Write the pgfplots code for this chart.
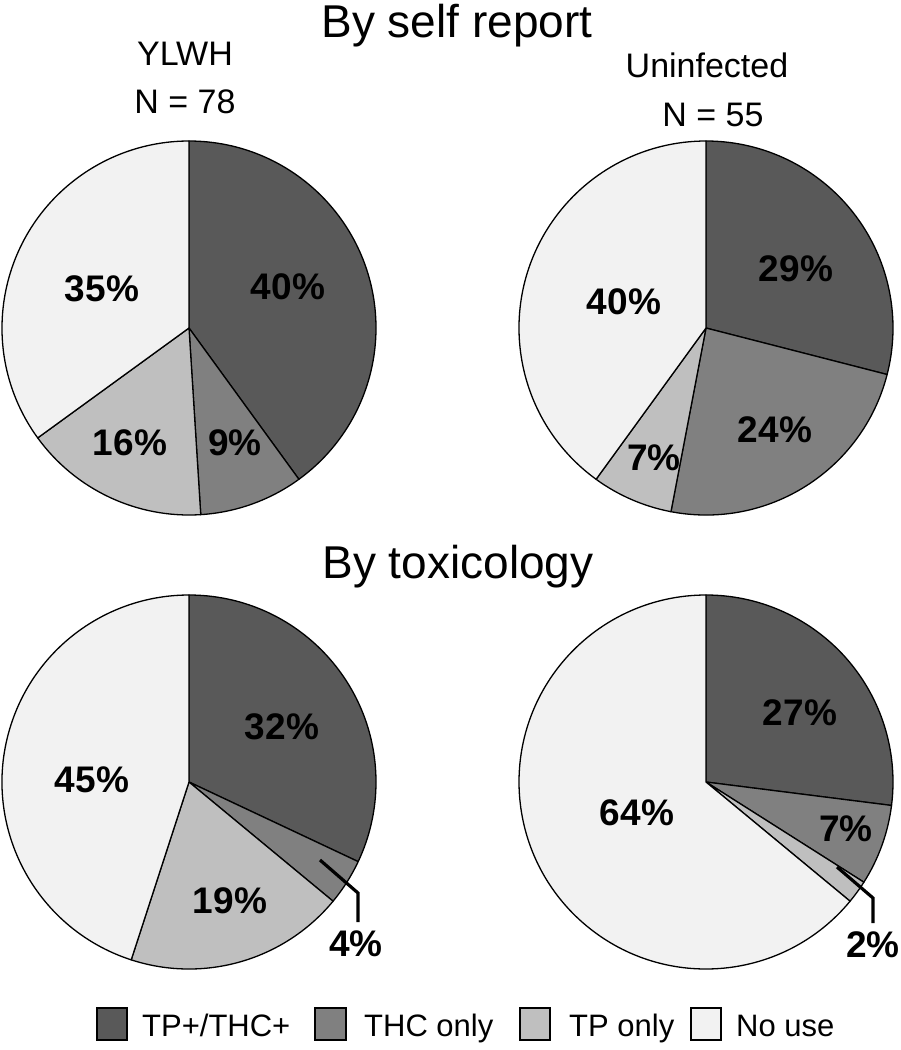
\documentclass[border=0pt]{standalone}
\usepackage{pgfplots}
\pgfplotsset{compat=1.18}
\usepackage{fontspec}
\setmainfont{Liberation Sans}

\definecolor{cBoth}{HTML}{595959}
\definecolor{cTHC}{HTML}{808080}
\definecolor{cTP}{HTML}{BFBFBF}
\definecolor{cNone}{HTML}{F2F2F2}

% one slice: centre x, centre y, cumulative start %, cumulative end %, colour
% 1 axis unit = 1pt, radius 187 units, clockwise from 12 o'clock
\newcommand\slice[5]{%
  \draw[black, line width=1.3pt, line join=round, fill=#5] (axis cs:#1,#2)
    -- ++({90-3.6*#3}:187pt)
    arc[start angle={90-3.6*#3}, end angle={90-3.6*#4}, radius=187pt] -- cycle;}
\newcommand\pct[3]{\node[font=\fontsize{37}{40}\selectfont\bfseries] at (axis cs:#1,#2) {#3\%};}

\begin{document}
\begin{tikzpicture}
\begin{axis}[
  scale only axis, width=901pt, height=1050pt,
  xmin=0, xmax=901, ymin=0, ymax=1050, y dir=reverse,
  hide axis, clip=false,
]
\coordinate (bl) at (axis cs:0,1050);
\coordinate (tr) at (axis cs:901,0);

% titles
\node[anchor=base, inner sep=0pt, font=\fontsize{46}{50}\selectfont] at (axis cs:457,37) {By self report};
\node[anchor=base, inner sep=0pt, font=\fontsize{46}{50}\selectfont] at (axis cs:458,578) {By toxicology};
\node[anchor=base, font=\fontsize{34}{38}\selectfont] at (axis cs:185,65) {YLWH};
\node[anchor=base, font=\fontsize{34}{38}\selectfont] at (axis cs:185,113) {N = 78};
\node[anchor=base, font=\fontsize{34}{38}\selectfont] at (axis cs:707,77) {Uninfected};
\node[anchor=base, font=\fontsize{34}{38}\selectfont] at (axis cs:713,126) {N = 55};

% self report, YLWH: 40, 9, 16, 35
\slice{189}{328}{0}{40}{cBoth}
\slice{189}{328}{40}{49}{cTHC}
\slice{189}{328}{49}{65}{cTP}
\slice{189}{328}{65}{100}{cNone}
\pct{288}{287}{40}
\pct{235}{443}{9}
\pct{130}{443}{16}
\pct{102}{289}{35}

% self report, uninfected: 29, 24, 7, 40
\slice{706}{328}{0}{29}{cBoth}
\slice{706}{328}{29}{53}{cTHC}
\slice{706}{328}{53}{60}{cTP}
\slice{706}{328}{60}{100}{cNone}
\pct{796}{269}{29}
\pct{775}{430}{24}
\pct{654}{458}{7}
\pct{624}{302}{40}

% toxicology, YLWH: 32, 4, 19, 45
\slice{189}{782}{0}{32}{cBoth}
\slice{189}{782}{32}{36}{cTHC}
\slice{189}{782}{36}{55}{cTP}
\slice{189}{782}{55}{100}{cNone}
\pct{282}{727}{32}
\pct{230}{901}{19}
\pct{92}{780}{45}
\draw[line width=3.2pt] (axis cs:320,860) -- (axis cs:358,893) -- (axis cs:358,922);
\pct{356}{944}{4}

% toxicology, uninfected: 27, 7, 2, 64
\slice{706}{782}{0}{27}{cBoth}
\slice{706}{782}{27}{34}{cTHC}
\slice{706}{782}{34}{36}{cTP}
\slice{706}{782}{36}{100}{cNone}
\pct{800}{713}{27}
\pct{846}{829}{7}
\pct{637}{813}{64}
\draw[line width=3.2pt] (axis cs:837,867) -- (axis cs:873,898) -- (axis cs:873,923);
\pct{873}{945}{2}

% legend
\begin{scope}[line width=2.4pt]
\draw[fill=cBoth] (axis cs:97,1008) rectangle (axis cs:127,1040);
\draw[fill=cTHC]  (axis cs:315,1008) rectangle (axis cs:346,1040);
\draw[fill=cTP]   (axis cs:520,1008) rectangle (axis cs:550,1040);
\draw[fill=cNone] (axis cs:691,1008) rectangle (axis cs:721,1040);
\end{scope}
\node[anchor=base west, inner sep=0pt, font=\fontsize{31}{34}\selectfont] at (axis cs:142,1036) {TP+/THC+};
\node[anchor=base west, inner sep=0pt, font=\fontsize{31}{34}\selectfont] at (axis cs:364,1036) {THC only};
\node[anchor=base west, inner sep=0pt, font=\fontsize{31}{34}\selectfont] at (axis cs:569,1036) {TP only};
\node[anchor=base west, inner sep=0pt, font=\fontsize{31}{34}\selectfont] at (axis cs:736,1036) {No use};
\end{axis}
\pgfresetboundingbox
\path[use as bounding box] (bl) rectangle (tr);
\end{tikzpicture}
\end{document}
